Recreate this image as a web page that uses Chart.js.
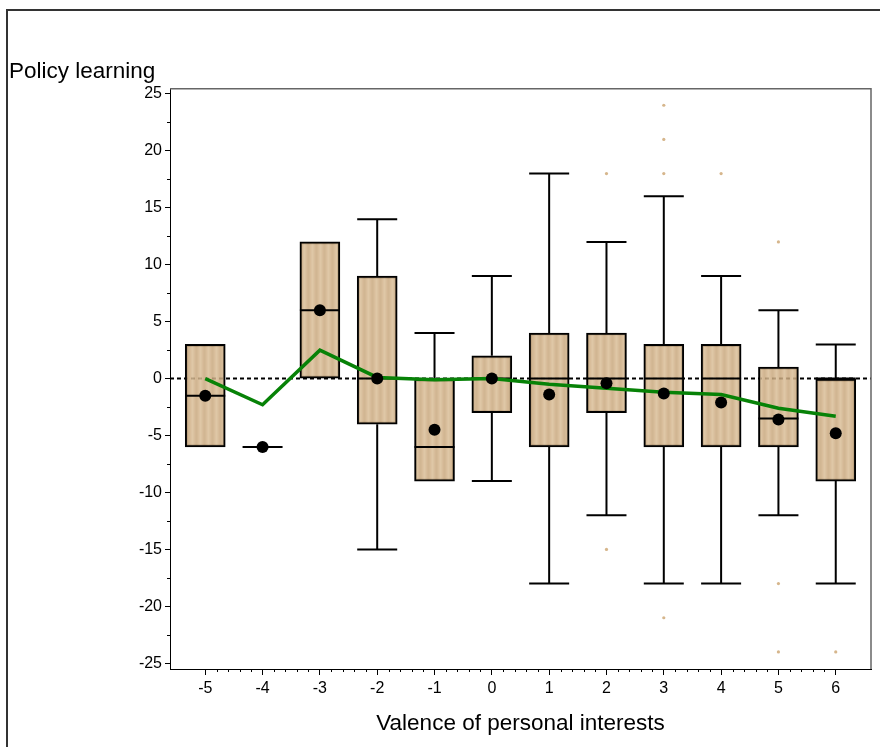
<!DOCTYPE html>
<html>
<head>
<meta charset="utf-8">
<title>Policy learning</title>
<script src="https://cdn.jsdelivr.net/npm/chart.js@4.4.0/dist/chart.umd.min.js"></script>
<style>
  html, body { margin: 0; padding: 0; background: #fff; }
  canvas { display: block; }
</style>
</head>
<body>
<canvas id="grafico" width="880" height="747"></canvas>
<script>
// values, one entry per group
const categories = [-5, -4, -3, -2, -1, 0, 1, 2, 3, 4, 5, 6];
const q1Values = [-6, -6, 0, -4, -9, -3, -6, -3, -6, -6, -6, -9];
const medianValues = [-1.5, -6, 6, 0, -6, 0, 0, 0, 0, 0, -3.5, 0];
const q3Values = [3, -6, 12, 9, 0, 2, 4, 4, 3, 3, 1, 0];
const whiskerLow = [-6, -6, 0, -15, -9, -9, -18, -12, -18, -18, -12, -18];
const whiskerHigh = [3, -6, 12, 14, 4, 9, 18, 12, 16, 9, 6, 3];
const meanValues = [-1.5, -6, 6, 0, -4.5, 0, -1.4, -0.4, -1.3, -2.1, -3.6, -4.8];
const trendValues = [0, -2.3, 2.5, 0.1, -0.1, 0, -0.5, -0.85, -1.2, -1.4, -2.6, -3.3];

// outliers
const outlierX = [2, 2, 3, 3, 3, 3, 4, 5, 5, 5, 6];
const outlierY = [18, -15, 24, 21, 18, -21, 18, 12, -18, -24, -24];

// axis ticks
const xTicks = [-5, -4, -3, -2, -1, 0, 1, 2, 3, 4, 5, 6];
const yTicks = [-25, -20, -15, -10, -5, 0, 5, 10, 15, 20, 25];
const xMinorStep = 0.2;
const yMinorStep = 2.5;

const BOX_INDEX = 3;
const BOX_WIDTH = 40;
const FONT = "'Liberation Sans', Arial, sans-serif";
const TITLE_SIZE = 22.5;
const TICK_SIZE = 16;

// tan fill with faint vertical stripes (a bit transparent so the dashed line shows through)
function makeStripes(ctx) {
    const c = document.createElement('canvas');
    c.width = 8;
    c.height = 1;
    const g = c.getContext('2d');
    const cols = [
        'rgba(217,189,151,0.85)', 'rgba(213,184,145,0.85)',
        'rgba(209,178,137,0.85)', 'rgba(204,172,131,0.85)',
        'rgba(201,169,127,0.85)', 'rgba(205,173,132,0.85)',
        'rgba(210,179,138,0.85)', 'rgba(214,185,146,0.85)'
    ];
    cols.forEach((col, i) => {
        g.fillStyle = col;
        g.fillRect(i, 0, 1, 1);
    });
    return ctx.createPattern(c, 'repeat');
}

const boxPlugin = {
    id: 'cajas',
    beforeDraw(chart) {
        const ctx = chart.ctx;
        ctx.save();
        ctx.fillStyle = '#fff';
        ctx.fillRect(0, 0, chart.width, chart.height);
        // outer frame, cut off at right and bottom
        ctx.strokeStyle = '#333';
        ctx.lineWidth = 2;
        ctx.strokeRect(7, 10, chart.width + 20, chart.height + 20);
        ctx.restore();
    },
    beforeDatasetsDraw(chart) {
        const ctx = chart.ctx;
        const area = chart.chartArea;
        const y0 = chart.scales.y.getPixelForValue(0);
        ctx.save();
        ctx.strokeStyle = '#000';
        ctx.lineWidth = 2;
        ctx.setLineDash([4, 3]);
        ctx.beginPath();
        ctx.moveTo(area.left, y0);
        ctx.lineTo(area.right, y0);
        ctx.stroke();
        ctx.restore();
    },
    afterDatasetDraw(chart, args) {
        if (args.index !== BOX_INDEX) return;
        const ctx = chart.ctx;
        const xs = chart.scales.x;
        const ys = chart.scales.y;
        const half = BOX_WIDTH / 2;
        ctx.save();
        ctx.strokeStyle = '#000';
        ctx.lineWidth = 2;
        categories.forEach((cat, i) => {
            const px = xs.getPixelForValue(cat);
            const hi = ys.getPixelForValue(whiskerHigh[i]);
            const lo = ys.getPixelForValue(whiskerLow[i]);
            const top = ys.getPixelForValue(q3Values[i]);
            const bot = ys.getPixelForValue(q1Values[i]);
            const med = ys.getPixelForValue(medianValues[i]);
            ctx.beginPath();
            if (whiskerHigh[i] > q3Values[i]) {
                ctx.moveTo(px, top);
                ctx.lineTo(px, hi);
                ctx.moveTo(px - half, hi);
                ctx.lineTo(px + half, hi);
            }
            if (whiskerLow[i] < q1Values[i]) {
                ctx.moveTo(px, bot);
                ctx.lineTo(px, lo);
                ctx.moveTo(px - half, lo);
                ctx.lineTo(px + half, lo);
            }
            ctx.moveTo(px - half, med);
            ctx.lineTo(px + half, med);
            ctx.stroke();
        });
        ctx.restore();
    },
    afterDraw(chart) {
        const ctx = chart.ctx;
        const area = chart.chartArea;
        const xs = chart.scales.x;
        const ys = chart.scales.y;
        ctx.save();
        // top and right edges of the plot box
        ctx.strokeStyle = '#666';
        ctx.lineWidth = 1.5;
        ctx.beginPath();
        ctx.moveTo(area.left, area.top);
        ctx.lineTo(area.right, area.top);
        ctx.lineTo(area.right, area.bottom);
        ctx.stroke();
        // minor ticks
        ctx.strokeStyle = '#000';
        ctx.lineWidth = 1;
        ctx.beginPath();
        const xFirst = xTicks[0], xLast = xTicks[xTicks.length - 1];
        for (let k = 1; xFirst + k * xMinorStep < xLast - 0.001; k++) {
            if (k % 5 === 0) continue;
            const px = Math.round(xs.getPixelForValue(xFirst + k * xMinorStep)) + 0.5;
            ctx.moveTo(px, area.bottom);
            ctx.lineTo(px, area.bottom + 3);
        }
        const yFirst = yTicks[0], yLast = yTicks[yTicks.length - 1];
        for (let k = 1; yFirst + k * yMinorStep < yLast - 0.001; k++) {
            if (k % 2 === 0) continue;
            const py = Math.round(ys.getPixelForValue(yFirst + k * yMinorStep)) + 0.5;
            ctx.moveTo(area.left, py);
            ctx.lineTo(area.left - 3, py);
        }
        ctx.stroke();
        ctx.restore();
    }
};

const ctx = document.getElementById('grafico').getContext('2d');
const stripes = makeStripes(ctx);

const miGrafico = new Chart(ctx, {
    type: 'bar',
    data: {
        datasets: [
            {
                type: 'scatter',
                label: 'Mean',
                data: categories.map((c, i) => ({ x: c, y: meanValues[i] })),
                backgroundColor: '#000',
                borderWidth: 0,
                pointRadius: 6,
                order: 1
            },
            {
                type: 'line',
                label: 'Trend',
                data: categories.map((c, i) => ({ x: c, y: trendValues[i] })),
                borderColor: '#078207',
                borderWidth: 3.5,
                pointRadius: 0,
                tension: 0,
                fill: false,
                order: 2
            },
            {
                type: 'scatter',
                label: 'Outliers',
                data: outlierX.map((x, i) => ({ x: x, y: outlierY[i] })),
                backgroundColor: '#d6b68c',
                borderWidth: 0,
                pointRadius: 1.6,
                order: 3
            },
            {
                type: 'bar',
                label: 'Box',
                data: categories.map((c, i) => ({ x: c, y: [q1Values[i], q3Values[i]] })),
                backgroundColor: stripes,
                borderColor: '#000',
                borderWidth: 2,
                borderSkipped: false,
                barThickness: BOX_WIDTH,
                grouped: false,
                order: 4
            }
        ]
    },
    plugins: [boxPlugin],
    options: {
        responsive: false,
        animation: false,
        devicePixelRatio: 1,
        layout: { padding: { left: 9, top: 59, right: 9, bottom: 0 } },
        plugins: {
            legend: { display: false },
            tooltip: { enabled: false },
            title: {
                display: true,
                text: 'Policy learning',
                align: 'start',
                color: '#000',
                font: { family: FONT, size: TITLE_SIZE, weight: 'normal', lineHeight: 1.1 },
                padding: { top: 0, bottom: 5 }
            }
        },
        scales: {
            x: {
                type: 'linear',
                min: -5.615,
                max: 6.615,
                offset: false,
                afterBuildTicks: s => { s.ticks = xTicks.map(v => ({ value: v })); },
                afterFit: s => { s.height = 78; },
                grid: { drawOnChartArea: false, drawTicks: true, tickLength: 6, tickColor: '#000', offset: false },
                border: { display: true, color: '#000', width: 1 },
                ticks: {
                    color: '#000',
                    font: { family: FONT, size: TICK_SIZE },
                    padding: 4,
                    maxRotation: 0,
                    autoSkip: false
                },
                title: {
                    display: true,
                    text: 'Valence of personal interests',
                    color: '#000',
                    font: { family: FONT, size: TITLE_SIZE, lineHeight: 1.1 },
                    padding: { top: 0, bottom: 11 }
                }
            },
            y: {
                type: 'linear',
                min: -25.5,
                max: 25.45,
                afterBuildTicks: s => { s.ticks = yTicks.map(v => ({ value: v })); },
                afterFit: s => { s.width = 161; },
                grid: { drawOnChartArea: false, drawTicks: true, tickLength: 5, tickColor: '#000' },
                border: { display: true, color: '#000', width: 1 },
                ticks: {
                    color: '#000',
                    font: { family: FONT, size: TICK_SIZE },
                    padding: 3,
                    autoSkip: false
                }
            }
        }
    }
});
</script>
</body>
</html>
